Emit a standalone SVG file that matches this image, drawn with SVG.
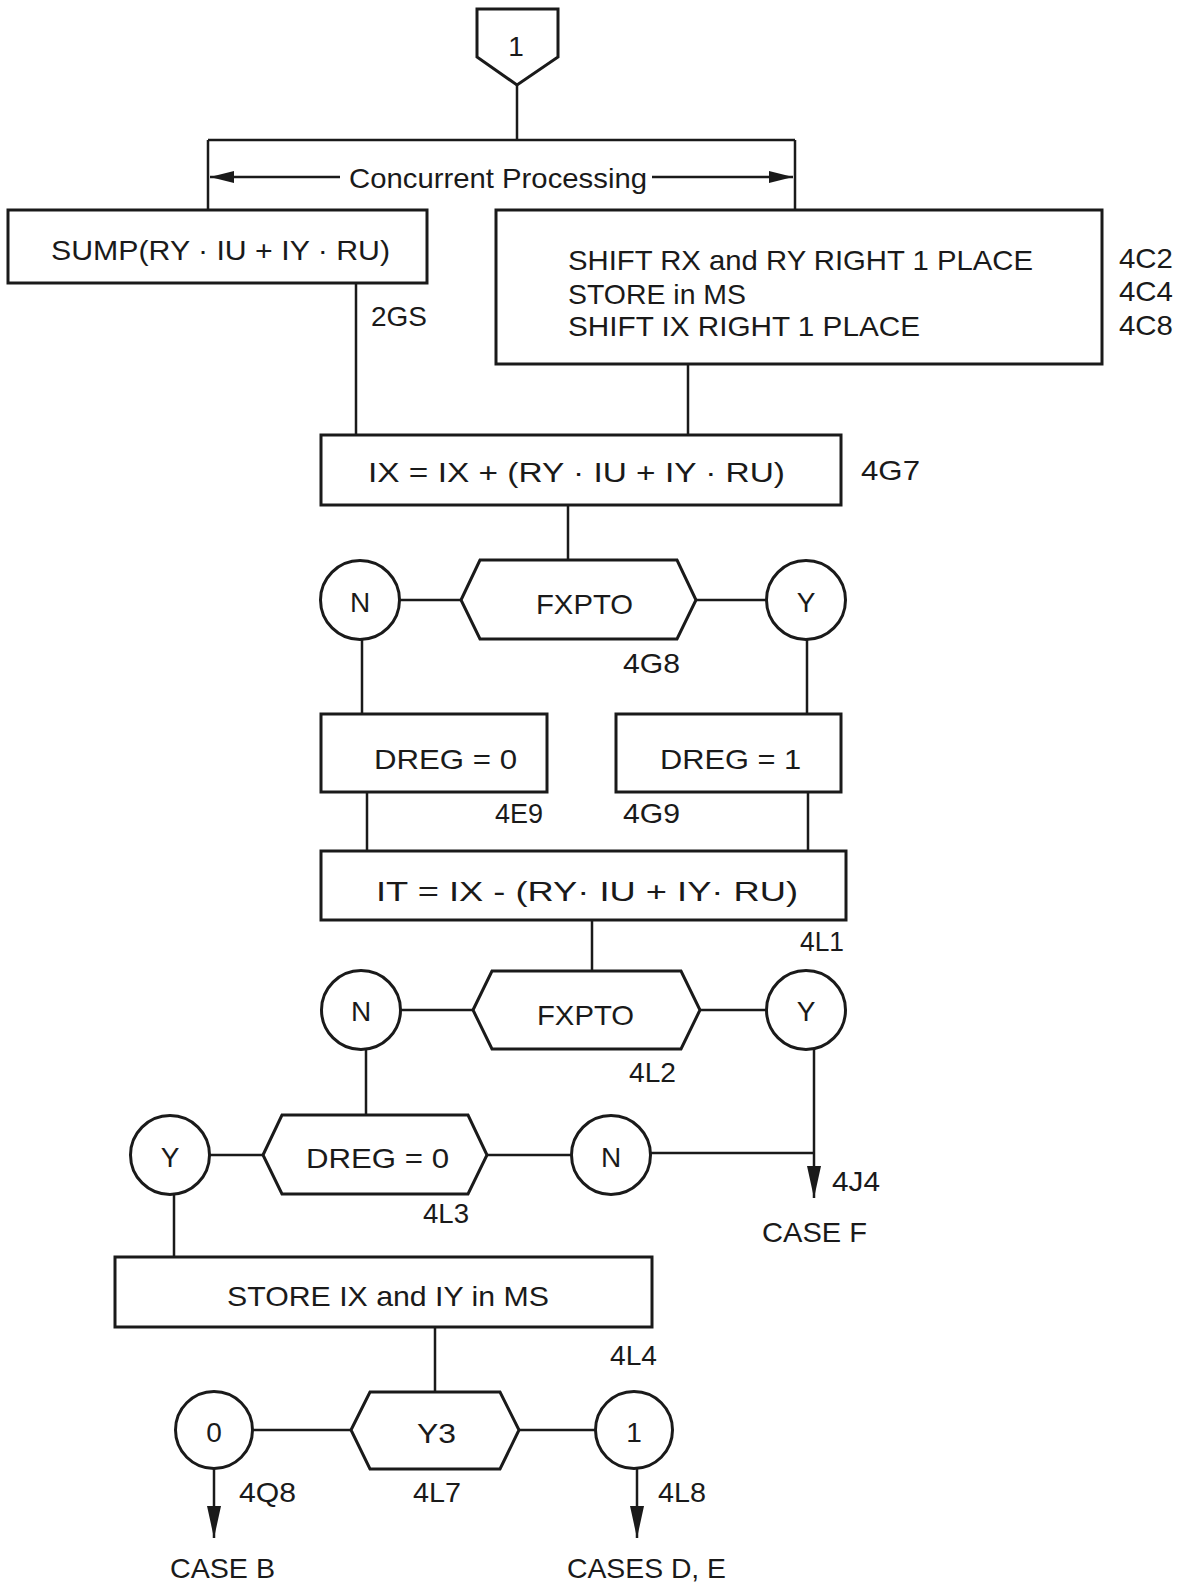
<svg xmlns="http://www.w3.org/2000/svg" width="1187" height="1585" viewBox="0 0 1187 1585">
<defs>
<style>
.b{fill:#fff;stroke:#1a1a1a;stroke-width:3}
.c{fill:none;stroke:#1a1a1a;stroke-width:2.5}
.t{font-family:"Liberation Sans","DejaVu Sans",sans-serif;font-size:28px;fill:#1a1a1a}
.m{text-anchor:middle}
</style>
<marker id="ah" markerUnits="userSpaceOnUse" markerWidth="24" markerHeight="12" refX="24" refY="6" orient="auto"><path d="M0,0 L24,6 L0,12 z" fill="#1a1a1a"/></marker>
<marker id="av" markerUnits="userSpaceOnUse" markerWidth="32" markerHeight="14" refX="32" refY="7" orient="auto"><path d="M0,0 L32,7 L0,14 z" fill="#1a1a1a"/></marker>
</defs>
<rect width="1187" height="1585" fill="#fff"/>
<g id="connectors">
<path class="c" d="M517,85 V140 M208,140 H795 M208,140 V210 M795,140 V210"/>
<path class="c" d="M340,177 H210" marker-end="url(#ah)"/>
<path class="c" d="M652,177 H793" marker-end="url(#ah)"/>
<path class="c" d="M356,283 V435 M688,364 V435 M568,505 V560"/>
<path class="c" d="M400,600 H461 M696,600 H766 M362,640 V714 M807,640 V714"/>
<path class="c" d="M367,792 V851 M808,792 V851 M592,920 V971"/>
<path class="c" d="M400,1010 H473 M700,1010 H766 M366,1049 V1115"/>
<path class="c" d="M210,1155 H263 M487,1155 H571 M651,1153 H814"/>
<path class="c" d="M814,1049 V1198" marker-end="url(#av)"/>
<path class="c" d="M174,1195 V1257 M435,1327 V1392"/>
<path class="c" d="M253,1430 H351 M519,1430 H596"/>
<path class="c" d="M214,1469 V1538" marker-end="url(#av)"/>
<path class="c" d="M637,1469 V1538" marker-end="url(#av)"/>
</g>
<g id="start"><path class="b" d="M477,9 H558 V57 L517,85 L477,57 Z"/><text class="t m" x="516" y="56">1</text></g>
<g id="concurrent"><text class="t" x="349" y="188" textLength="298" lengthAdjust="spacingAndGlyphs">Concurrent Processing</text></g>
<g id="sump"><rect class="b" x="8" y="210" width="419" height="73"/><text class="t" x="51" y="260" textLength="339" lengthAdjust="spacingAndGlyphs">SUMP(RY · IU + IY · RU)</text><text class="t" x="371" y="326" textLength="56" lengthAdjust="spacingAndGlyphs">2GS</text></g>
<g id="shift"><rect class="b" x="496" y="210" width="606" height="154"/>
<text class="t" x="568" y="270" textLength="465" lengthAdjust="spacingAndGlyphs">SHIFT RX and RY RIGHT 1 PLACE</text>
<text class="t" x="568" y="304" textLength="178" lengthAdjust="spacingAndGlyphs">STORE in MS</text>
<text class="t" x="568" y="336" textLength="352" lengthAdjust="spacingAndGlyphs">SHIFT IX RIGHT 1 PLACE</text>
<text class="t" x="1119" y="268" textLength="54" lengthAdjust="spacingAndGlyphs">4C2</text>
<text class="t" x="1119" y="301" textLength="54" lengthAdjust="spacingAndGlyphs">4C4</text>
<text class="t" x="1119" y="335" textLength="54" lengthAdjust="spacingAndGlyphs">4C8</text></g>
<g id="ix"><rect class="b" x="321" y="435" width="520" height="70"/><text class="t" x="368" y="482" textLength="417" lengthAdjust="spacingAndGlyphs">IX = IX + (RY · IU + IY · RU)</text><text class="t" x="861" y="480" textLength="59" lengthAdjust="spacingAndGlyphs">4G7</text></g>
<g id="fxpto1"><path class="b" d="M461,600 L480,560 H677 L696,600 L677,639 H480 Z"/><text class="t" x="536" y="614" textLength="97" lengthAdjust="spacingAndGlyphs">FXPTO</text><text class="t" x="623" y="673" textLength="57" lengthAdjust="spacingAndGlyphs">4G8</text></g>
<g id="n1"><circle class="b" cx="360" cy="600" r="39.5"/><text class="t m" x="360" y="612">N</text></g>
<g id="y1"><circle class="b" cx="806" cy="600" r="39.5"/><text class="t m" x="806" y="612">Y</text></g>
<g id="dreg0"><rect class="b" x="321" y="714" width="226" height="78"/><text class="t" x="374" y="769" textLength="143" lengthAdjust="spacingAndGlyphs">DREG = 0</text><text class="t" x="495" y="823" textLength="48" lengthAdjust="spacingAndGlyphs">4E9</text></g>
<g id="dreg1"><rect class="b" x="616" y="714" width="225" height="78"/><text class="t" x="660" y="769" textLength="141" lengthAdjust="spacingAndGlyphs">DREG = 1</text><text class="t" x="623" y="823" textLength="57" lengthAdjust="spacingAndGlyphs">4G9</text></g>
<g id="it"><rect class="b" x="321" y="851" width="525" height="69"/><text class="t" x="376" y="901" textLength="422" lengthAdjust="spacingAndGlyphs">IT = IX - (RY· IU + IY· RU)</text><text class="t" x="800" y="951" textLength="44" lengthAdjust="spacingAndGlyphs">4L1</text></g>
<g id="fxpto2"><path class="b" d="M473,1010 L492,971 H681 L700,1010 L681,1049 H492 Z"/><text class="t" x="537" y="1025" textLength="97" lengthAdjust="spacingAndGlyphs">FXPTO</text><text class="t" x="629" y="1082" textLength="47" lengthAdjust="spacingAndGlyphs">4L2</text></g>
<g id="n2"><circle class="b" cx="361" cy="1010" r="39.5"/><text class="t m" x="361" y="1021">N</text></g>
<g id="y2"><circle class="b" cx="806" cy="1010" r="39.5"/><text class="t m" x="806" y="1021">Y</text></g>
<g id="dregtest"><path class="b" d="M263,1155 L282,1115 H468 L487,1155 L468,1194 H282 Z"/><text class="t" x="306" y="1168" textLength="143" lengthAdjust="spacingAndGlyphs">DREG = 0</text><text class="t" x="423" y="1223" textLength="46" lengthAdjust="spacingAndGlyphs">4L3</text></g>
<g id="y3c"><circle class="b" cx="170" cy="1155" r="39.5"/><text class="t m" x="170" y="1167">Y</text></g>
<g id="n3"><circle class="b" cx="611" cy="1155" r="39.5"/><text class="t m" x="611" y="1167">N</text></g>
<g id="casef"><text class="t" x="832" y="1191" textLength="48" lengthAdjust="spacingAndGlyphs">4J4</text><text class="t" x="762" y="1242" textLength="105" lengthAdjust="spacingAndGlyphs">CASE F</text></g>
<g id="store"><rect class="b" x="115" y="1257" width="537" height="70"/><text class="t" x="227" y="1306" textLength="322" lengthAdjust="spacingAndGlyphs">STORE IX and IY in MS</text><text class="t" x="610" y="1365" textLength="47" lengthAdjust="spacingAndGlyphs">4L4</text></g>
<g id="y3"><path class="b" d="M351,1430 L370,1392 H500 L519,1430 L500,1469 H370 Z"/><text class="t" x="417" y="1443" textLength="39" lengthAdjust="spacingAndGlyphs">Y3</text><text class="t" x="413" y="1502" textLength="48" lengthAdjust="spacingAndGlyphs">4L7</text></g>
<g id="c0"><circle class="b" cx="214" cy="1430" r="38.5"/><text class="t m" x="214" y="1442">0</text></g>
<g id="c1"><circle class="b" cx="634" cy="1430" r="38.5"/><text class="t m" x="634" y="1442">1</text></g>
<g id="caseb"><text class="t" x="239" y="1502" textLength="57" lengthAdjust="spacingAndGlyphs">4Q8</text><text class="t" x="170" y="1578" textLength="105" lengthAdjust="spacingAndGlyphs">CASE B</text></g>
<g id="casesde"><text class="t" x="658" y="1502" textLength="48" lengthAdjust="spacingAndGlyphs">4L8</text><text class="t" x="567" y="1578" textLength="159" lengthAdjust="spacingAndGlyphs">CASES D, E</text></g>
</svg>
